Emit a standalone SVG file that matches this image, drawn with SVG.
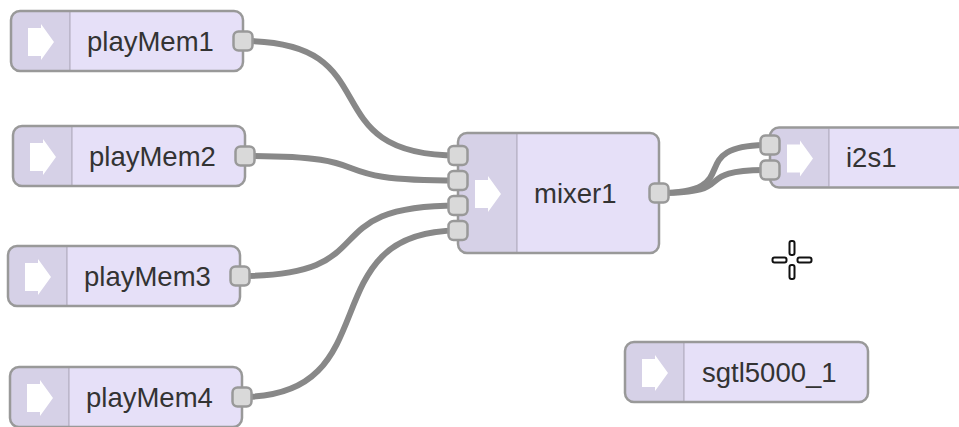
<svg xmlns="http://www.w3.org/2000/svg" xmlns:xlink="http://www.w3.org/1999/xlink" width="959" height="427" viewBox="0 0 959 427">
<defs>
<style>
.body{fill:#e6e0f8;stroke:none}
.iconbg{fill:#000;fill-opacity:0.065}
.divider{stroke:#000;stroke-opacity:0.12;stroke-width:2}
.outline{fill:none;stroke:#999;stroke-width:2.5}
.arrow{fill:#fff}
.label{font-family:"Liberation Sans",Arial,sans-serif;font-size:27.5px;fill:#333}
.port{fill:#d9d9d9;stroke:#999;stroke-width:2.5}
.wire{fill:none;stroke:#888;stroke-width:6;stroke-linecap:round}
.cur{fill:#fff;stroke:#111;stroke-width:2}
</style>
<polygon id="arrow" class="arrow" points="17,-14 30,-14 30,-18 43,0 30,18 30,14 17,14"/>
</defs>
<rect width="959" height="427" fill="#fff"/>

<g id="connectors">
<path class="wire" d="M243,41 C393,41 308,155.5 458,155.5"/>
<path class="wire" d="M245,156 C395,156 308,180.5 458,180.5"/>
<path class="wire" d="M240,276 C390,276 308,205.5 458,205.5"/>
<path class="wire" d="M242,397 C392,397 308,230.5 458,230.5"/>
<path class="wire" d="M659,193 C749.7,193 679.3,145 770,145"/>
<path class="wire" d="M659,193 C744,193 685,170 770,170"/>
</g>

<g id="playMem1" transform="translate(11,11)">
<rect class="body" width="232" height="60" rx="9"/>
<path class="iconbg" d="M59,0 H9 A9,9 0 0 0 0,9 V51 A9,9 0 0 0 9,60 H59 Z"/>
<line class="divider" x1="59" y1="1" x2="59" y2="59"/>
<use xlink:href="#arrow" href="#arrow" y="31"/>
<rect class="outline" width="232" height="60" rx="9"/>
<text class="label" x="76" y="39.7">playMem1</text>
<rect class="port" x="222.5" y="20.5" width="19" height="19" rx="5"/>
</g>

<g id="playMem2" transform="translate(13,126)">
<rect class="body" width="232" height="60" rx="9"/>
<path class="iconbg" d="M59,0 H9 A9,9 0 0 0 0,9 V51 A9,9 0 0 0 9,60 H59 Z"/>
<line class="divider" x1="59" y1="1" x2="59" y2="59"/>
<use xlink:href="#arrow" href="#arrow" y="31"/>
<rect class="outline" width="232" height="60" rx="9"/>
<text class="label" x="76" y="39.7">playMem2</text>
<rect class="port" x="222.5" y="20.5" width="19" height="19" rx="5"/>
</g>

<g id="playMem3" transform="translate(8,246)">
<rect class="body" width="232" height="60" rx="9"/>
<path class="iconbg" d="M59,0 H9 A9,9 0 0 0 0,9 V51 A9,9 0 0 0 9,60 H59 Z"/>
<line class="divider" x1="59" y1="1" x2="59" y2="59"/>
<use xlink:href="#arrow" href="#arrow" y="31"/>
<rect class="outline" width="232" height="60" rx="9"/>
<text class="label" x="76" y="39.7">playMem3</text>
<rect class="port" x="222.5" y="20.5" width="19" height="19" rx="5"/>
</g>

<g id="playMem4" transform="translate(10,367)">
<rect class="body" width="232" height="60" rx="9"/>
<path class="iconbg" d="M59,0 H9 A9,9 0 0 0 0,9 V51 A9,9 0 0 0 9,60 H59 Z"/>
<line class="divider" x1="59" y1="1" x2="59" y2="59"/>
<use xlink:href="#arrow" href="#arrow" y="31"/>
<rect class="outline" width="232" height="60" rx="9"/>
<text class="label" x="76" y="39.7">playMem4</text>
<rect class="port" x="222.5" y="20.5" width="19" height="19" rx="5"/>
</g>

<g id="mixer1" transform="translate(458,133)">
<rect class="body" width="201" height="120" rx="9"/>
<path class="iconbg" d="M59,0 H9 A9,9 0 0 0 0,9 V111 A9,9 0 0 0 9,120 H59 Z"/>
<line class="divider" x1="59" y1="1" x2="59" y2="119"/>
<use xlink:href="#arrow" href="#arrow" y="61"/>
<rect class="outline" width="201" height="120" rx="9"/>
<text class="label" x="76" y="69.7">mixer1</text>
<rect class="port" x="-9.5" y="13" width="19" height="19" rx="5"/>
<rect class="port" x="-9.5" y="38" width="19" height="19" rx="5"/>
<rect class="port" x="-9.5" y="63" width="19" height="19" rx="5"/>
<rect class="port" x="-9.5" y="88" width="19" height="19" rx="5"/>
<rect class="port" x="191.5" y="50.5" width="19" height="19" rx="5"/>
</g>

<g id="i2s1" transform="translate(770,127.5)">
<rect class="body" width="200" height="60" rx="9"/>
<path class="iconbg" d="M59,0 H9 A9,9 0 0 0 0,9 V51 A9,9 0 0 0 9,60 H59 Z"/>
<line class="divider" x1="59" y1="1" x2="59" y2="59"/>
<use xlink:href="#arrow" href="#arrow" y="31"/>
<rect class="outline" width="200" height="60" rx="9"/>
<text class="label" x="76" y="39.7">i2s1</text>
<rect class="port" x="-9.5" y="8" width="19" height="19" rx="5"/>
<rect class="port" x="-9.5" y="33" width="19" height="19" rx="5"/>
</g>

<g id="sgtl5000_1" transform="translate(625,342)">
<rect class="body" width="243" height="60" rx="9"/>
<path class="iconbg" d="M59,0 H9 A9,9 0 0 0 0,9 V51 A9,9 0 0 0 9,60 H59 Z"/>
<line class="divider" x1="59" y1="1" x2="59" y2="59"/>
<use xlink:href="#arrow" href="#arrow" y="31"/>
<rect class="outline" width="243" height="60" rx="9"/>
<text class="label" x="77" y="39.7">sgtl5000_1</text>
</g>

<g id="cursor" transform="translate(792,260)">
<rect class="cur" x="-2.5" y="-19" width="5" height="14" rx="2"/>
<rect class="cur" x="-2.5" y="5" width="5" height="14" rx="2"/>
<rect class="cur" x="-19.5" y="-2.5" width="14" height="5" rx="2"/>
<rect class="cur" x="5.5" y="-2.5" width="14" height="5" rx="2"/>
</g>
</svg>
